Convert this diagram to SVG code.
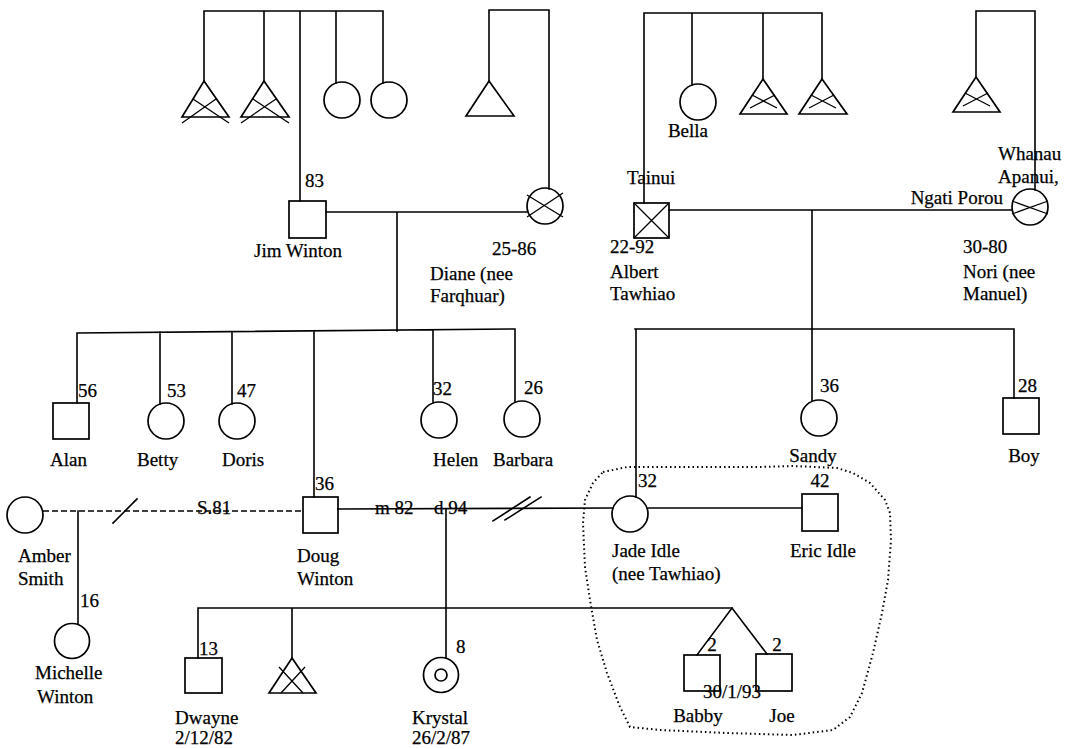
<svg xmlns="http://www.w3.org/2000/svg" width="1065" height="749" viewBox="0 0 1065 749">
<style>
.ln{fill:none;stroke:#000;stroke-width:1.6;stroke-linecap:square}
.sh{fill:none;stroke:#000;stroke-width:1.7}
.x{fill:none;stroke:#000;stroke-width:1.3}
.dash{fill:none;stroke:#000;stroke-width:1.6;stroke-dasharray:6 3}
.dot{fill:none;stroke:#000;stroke-width:2;stroke-dasharray:1.5 3;stroke-linejoin:round}
text{font-family:"Liberation Serif","Times New Roman",serif;font-size:19px;fill:#000;stroke:#000;stroke-width:0.25}
.m{text-anchor:middle}
.e{text-anchor:end}
</style>
<rect width="1065" height="749" fill="#fff"/>

<g id="connectors">
<path class="ln" d="M204,11 H383 M204,11 V81 M264,11 V81 M300,11 V201 M336,11 V83 M383,11 V83"/>
<path class="ln" d="M489,81 V10 H549 V189"/>
<path class="ln" d="M326,212 H527 M397,212 V331"/>
<path class="ln" d="M77,333 L515,329 M77,333 V403 M160,332 V404 M232,332 V404 M314,332 V497 M433,330 V403 M515,329 V402"/>
<path class="ln" d="M644,13 H822 M644,13 V203 M692,13 V85 M763,13 V79 M822,13 V79"/>
<path class="ln" d="M976,77 V11 H1035 V190"/>
<path class="ln" d="M669,210 H1012 M812,210 V401"/>
<path class="ln" d="M635,329 H1014 M636,329 V497 M1014,329 V398"/>
<path class="dash" d="M43,511 H303"/>
<path class="ln" d="M113,523 L137,499"/>
<path class="ln" d="M78,511 V624"/>
<path class="ln" d="M338,509 L613,508 M648,508 H802"/>
<path class="ln" d="M493,521 L530,497 M505,520 L541,497"/>
<path class="ln" d="M446,509 V658"/>
<path class="ln" d="M198,608 H732 M198,608 V658 M292,608 V658"/>
<path class="ln" d="M697,655 L732,608 L767,654"/>
</g>

<g id="household">
<path class="dot" d="M603,472 L627,467 L710,467 L760,467 L793,466 L837,468 L853,473 L870,483 L885,500 L890,513 L891,540 L888,580 L882,613 L873,653 L862,693 L850,717 L833,730 L793,735 L727,733 L660,730 L630,727 L620,707 L607,673 L597,640 L590,600 L585,567 L583,523 L585,500 L593,483 Z"/>
</g>

<g id="jim-brother1">
<path class="sh" d="M204,81 L229,117 L182,117 Z"/>
<path class="x" d="M182,123 L216,99 M193,99 L229,123"/>
</g>
<g id="jim-brother2">
<path class="sh" d="M264,81 L289,117 L241,117 Z"/>
<path class="x" d="M241,123 L276,99 M253,99 L289,123"/>
</g>
<g id="jim-sister1"><circle class="sh" cx="342" cy="100" r="18"/></g>
<g id="jim-sister2"><circle class="sh" cx="389" cy="100" r="18"/></g>

<g id="jim">
<rect class="sh" x="289" y="201" width="37" height="37"/>
<text x="305" y="187">83</text>
<text x="254" y="257">Jim Winton</text>
</g>

<g id="diane-brother"><path class="sh" d="M489,81 L514,116 L466,116 Z"/></g>
<g id="diane">
<circle class="sh" cx="545" cy="206" r="18"/>
<path class="x" d="M527,195 L563,217 M527,217 L563,193"/>
<text x="492" y="255">25-86</text>
<text x="430" y="280">Diane (nee</text>
<text x="430" y="302">Farqhuar)</text>
</g>

<g id="bella">
<circle class="sh" cx="698" cy="102" r="18"/>
<text class="m" x="688" y="137">Bella</text>
</g>
<g id="albert-brother1">
<path class="sh" d="M763,79 L787,114 L740,114 Z"/>
<path class="x" d="M750,108 L775,95 M752,95 L777,108"/>
</g>
<g id="albert-brother2">
<path class="sh" d="M822,79 L847,114 L799,114 Z"/>
<path class="x" d="M809,108 L834,95 M811,95 L836,108"/>
</g>
<g id="nori-brother">
<path class="sh" d="M976,77 L1000,112 L953,112 Z"/>
<path class="x" d="M963,106 L988,93 M965,93 L990,106"/>
</g>

<g id="albert">
<rect class="sh" x="634" y="203" width="35" height="35"/>
<path class="x" d="M634,203 L669,238 M669,203 L634,238"/>
<text x="627" y="184">Tainui</text>
<text x="610" y="253">22-92</text>
<text x="610" y="278">Albert</text>
<text x="610" y="300">Tawhiao</text>
</g>

<g id="nori">
<circle class="sh" cx="1030" cy="207" r="18"/>
<path class="x" d="M1012,201 L1048,214 M1012,214 L1048,201"/>
<text x="998" y="160">Whanau</text>
<text x="998" y="183">Apanui,</text>
<text class="e" x="1003" y="204">Ngati Porou</text>
<text x="963" y="253">30-80</text>
<text x="963" y="278">Nori (nee</text>
<text x="963" y="300">Manuel)</text>
</g>

<g id="alan">
<rect class="sh" x="53" y="403" width="36" height="36"/>
<text x="78" y="397">56</text>
<text x="50" y="466">Alan</text>
</g>
<g id="betty">
<circle class="sh" cx="166" cy="421" r="18"/>
<text x="167" y="397">53</text>
<text x="137" y="466">Betty</text>
</g>
<g id="doris">
<circle class="sh" cx="237" cy="421" r="18"/>
<text x="237" y="397">47</text>
<text x="222" y="466">Doris</text>
</g>
<g id="helen">
<circle class="sh" cx="439" cy="420" r="18"/>
<text x="433" y="395">32</text>
<text x="433" y="466">Helen</text>
</g>
<g id="barbara">
<circle class="sh" cx="522" cy="419" r="18"/>
<text x="524" y="394">26</text>
<text x="493" y="466">Barbara</text>
</g>
<g id="sandy">
<circle class="sh" cx="819" cy="418" r="18"/>
<text x="820" y="392">36</text>
<text class="m" x="813" y="462">Sandy</text>
</g>
<g id="boy">
<rect class="sh" x="1003" y="398" width="36" height="36"/>
<text x="1018" y="392">28</text>
<text class="m" x="1024" y="462">Boy</text>
</g>

<g id="amber">
<circle class="sh" cx="25" cy="515" r="18"/>
<text x="18" y="562">Amber</text>
<text x="18" y="585">Smith</text>
</g>
<g id="separation-label"><text x="197" y="514">S.81</text></g>
<g id="doug">
<rect class="sh" x="303" y="497" width="35" height="36"/>
<text x="315" y="490">36</text>
<text x="297" y="562">Doug</text>
<text x="297" y="585">Winton</text>
</g>
<g id="marriage-label">
<text x="375" y="514">m 82</text>
<text x="434" y="514">d 94</text>
</g>
<g id="jade">
<circle class="sh" cx="630" cy="514" r="18"/>
<text x="638" y="487">32</text>
<text x="612" y="557">Jade Idle</text>
<text x="612" y="580">(nee Tawhiao)</text>
</g>
<g id="eric">
<rect class="sh" x="802" y="494" width="36" height="37"/>
<text class="m" x="820" y="487">42</text>
<text x="790" y="557">Eric Idle</text>
</g>
<g id="michelle">
<circle class="sh" cx="72" cy="641" r="17.5"/>
<text x="80" y="607">16</text>
<text x="35" y="679">Michelle</text>
<text x="37" y="703">Winton</text>
</g>
<g id="dwayne">
<rect class="sh" x="185" y="658" width="37" height="35"/>
<text x="199" y="655">13</text>
<text x="175" y="724">Dwayne</text>
<text x="175" y="744">2/12/82</text>
</g>
<g id="dwayne-sibling">
<path class="sh" d="M292,658 L316,693 L269,693 Z"/>
<path class="x" d="M281,693 L305,667 M279,667 L303,693"/>
</g>
<g id="krystal">
<circle class="sh" cx="441" cy="675" r="17.5"/>
<circle class="sh" cx="441" cy="675" r="6"/>
<text x="456" y="653">8</text>
<text x="412" y="724">Krystal</text>
<text x="412" y="744">26/2/87</text>
</g>
<g id="babby">
<rect class="sh" x="684" y="655" width="36" height="36"/>
<text class="m" x="712" y="651">2</text>
<text class="m" x="698" y="722">Babby</text>
</g>
<g id="joe">
<rect class="sh" x="756" y="654" width="36" height="37"/>
<text class="m" x="777" y="651">2</text>
<text class="m" x="782" y="722">Joe</text>
</g>
<g id="twins-date"><text x="703" y="698">30/1/93</text></g>
</svg>
